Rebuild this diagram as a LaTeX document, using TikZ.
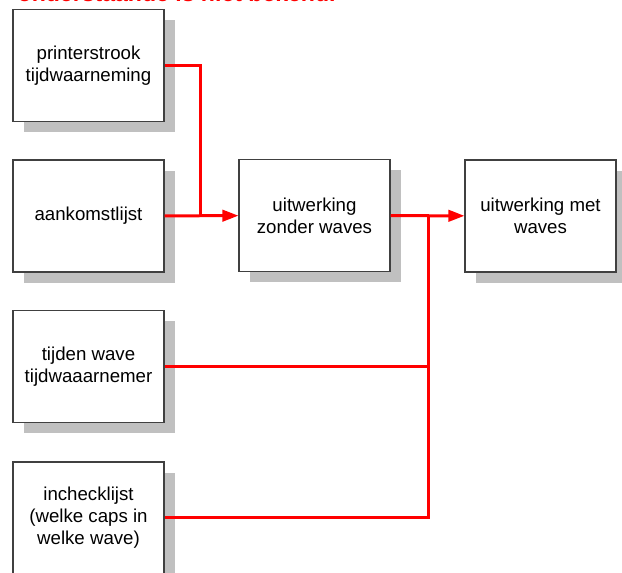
\documentclass[tikz,border=0pt]{standalone}
\usepackage{fontspec}
\setmainfont{Liberation Sans}
\usepackage[dvipsnames,svgnames]{xcolor}
\usetikzlibrary{positioning}
\usetikzlibrary{arrows.meta}
\usetikzlibrary{shadows}
\definecolor{schaduw}{HTML}{C0C0C0}
\tikzset{blok/.style={draw=black!75,line width=0.8pt,fill=white,inner sep=0pt,
    minimum width=113.25pt,minimum height=84pt,align=center,
    font=\fontsize{14}{16.5}\selectfont,
    general shadow={shadow xshift=8.25pt,shadow yshift=-8.25pt,fill=schaduw}}}
\tikzset{lijn/.style={draw=red,line width=2.25pt}}
\tikzset{pijl/.style={lijn,-{Triangle[length=12pt,width=8.5pt]}}}

\begin{document}
\begin{tikzpicture}[x=0.75pt,y=-0.75pt] % 1 eenheid = 1 pixel
            \useasboundingbox (0,0) rectangle (622,573);
            \node[anchor=base west,text=red,font=\fontsize{17.3}{20}\selectfont\bfseries] (kop) at (13,1.5) {onderstaande is niet bekend.};
            \node[blok] (printer) at (88.5,65.5) {printerstrook\\tijdwaarneming};
            \node[blok] (aankomst) at (88.5,216) {aankomstlijst};
            \node[blok] (tijden) at (88.5,366.5) {tijden wave\\tijdwaaarnemer};
            \node[blok] (incheck) at (88.5,518) {inchecklijst\\(welke caps in\\welke wave)};
            \node[blok] (zonder) at (314.5,215.5) {uitwerking\\zonder waves};
            \node[blok] (met) at (540.5,216) {uitwerking met\\waves};
            \coordinate (knoop1) at (200,216);
            \coordinate (knoop2) at (428,216);
            \draw[lijn] (printer.east) -| (knoop1);
            \draw[pijl] (aankomst) -- (zonder);
            \draw[pijl] (zonder) -- (met);
            \draw[lijn] (tijden.east) -| (knoop2);
            \draw[lijn] (incheck.east) -| (knoop2);
        \end{tikzpicture}
\end{document}
